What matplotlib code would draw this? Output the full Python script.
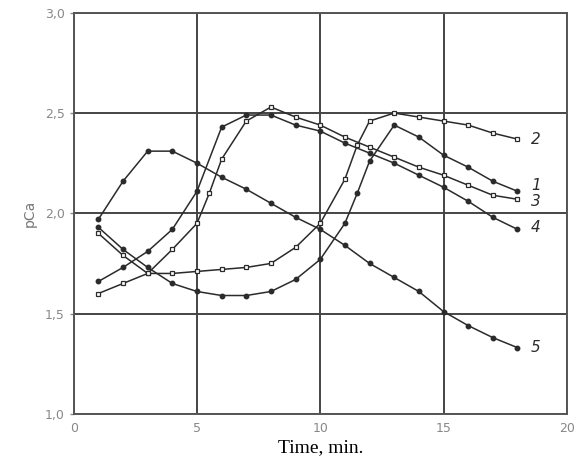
import matplotlib
matplotlib.use("Agg")
from matplotlib import pyplot as plt
from matplotlib.ticker import FuncFormatter

# time points (min) and pCa values
t1 = [1, 2, 3, 4, 5, 6, 7, 8, 9, 10, 11, 11.5, 12, 13, 14, 15, 16, 17, 18]
pca1 = [1.93, 1.82, 1.73, 1.65, 1.61, 1.59, 1.59, 1.61, 1.67, 1.77, 1.95, 2.10, 2.26, 2.44,
        2.38, 2.29, 2.23, 2.16, 2.11]

t2 = [1, 2, 3, 4, 5, 6, 7, 8, 9, 10, 11, 11.5, 12, 13, 14, 15, 16, 17, 18]
pca2 = [1.90, 1.79, 1.70, 1.70, 1.71, 1.72, 1.73, 1.75, 1.83, 1.95, 2.17, 2.34, 2.46, 2.50,
        2.48, 2.46, 2.44, 2.40, 2.37]

t3 = [1, 2, 3, 4, 5, 5.5, 6, 7, 8, 9, 10, 11, 12, 13, 14, 15, 16, 17, 18]
pca3 = [1.60, 1.65, 1.70, 1.82, 1.95, 2.10, 2.27, 2.46, 2.53, 2.48, 2.44, 2.38, 2.33, 2.28,
        2.23, 2.19, 2.14, 2.09, 2.07]

t4 = [1, 2, 3, 4, 5, 6, 7, 8, 9, 10, 11, 12, 13, 14, 15, 16, 17, 18]
pca4 = [1.66, 1.73, 1.81, 1.92, 2.11, 2.43, 2.49, 2.49, 2.44, 2.41, 2.35, 2.30, 2.25, 2.19,
        2.13, 2.06, 1.98, 1.92]

t5 = [1, 2, 3, 4, 5, 6, 7, 8, 9, 10, 11, 12, 13, 14, 15, 16, 17, 18]
pca5 = [1.97, 2.16, 2.31, 2.31, 2.25, 2.18, 2.12, 2.05, 1.98, 1.92, 1.84, 1.75, 1.68, 1.61,
        1.51, 1.44, 1.38, 1.33]

curve_labels = ['1', '2', '3', '4', '5']

ink = '#2b2b2b'
fig = plt.figure(figsize=(5.76, 4.74), dpi=100)
ax = fig.add_axes([0.128, 0.127, 0.856, 0.846])

filled = dict(marker='o', markersize=3.2, markerfacecolor=ink, markeredgecolor=ink)
hollow = dict(marker='s', markersize=3.5, markerfacecolor='white', markeredgecolor=ink,
              markeredgewidth=0.9)

ax.plot(t1, pca1, color=ink, lw=1.1, **filled)
ax.plot(t2, pca2, color=ink, lw=1.1, **hollow)
ax.plot(t3, pca3, color=ink, lw=1.1, **hollow)
ax.plot(t4, pca4, color=ink, lw=1.1, **filled)
ax.plot(t5, pca5, color=ink, lw=1.1, **filled)

# curve numbers at the right-hand ends
ends = [(t1[-1], pca1[-1] + 0.03), (t2[-1], pca2[-1]), (t3[-1], pca3[-1] - 0.01),
        (t4[-1], pca4[-1] + 0.01), (t5[-1], pca5[-1])]
for lab, (x, y) in zip(curve_labels, ends):
    ax.text(x + 0.55, y, lab, fontsize=11, style='italic', color=ink, va='center')

ax.set_xlim(0, 20)
ax.set_ylim(1.0, 3.0)
ax.set_xticks([0, 5, 10, 15, 20])
ax.set_yticks([1.0, 1.5, 2.0, 2.5, 3.0])
ax.yaxis.set_major_formatter(FuncFormatter(lambda v, p: f'{v:.1f}'.replace('.', ',')))
ax.grid(True, color='#444444', lw=1.4)
ax.set_axisbelow(True)
for s in ax.spines.values():
    s.set_color('#555555')
    s.set_linewidth(1.4)
ax.tick_params(axis='x', length=0, pad=6, colors='#888888', labelsize=9)
ax.tick_params(axis='y', length=3, width=1, direction='out', colors='#888888', labelsize=9)

ax.set_ylabel('pCa', color='#777777', fontsize=10, labelpad=6)
ax.set_xlabel('Time, min.', fontsize=14, family='Liberation Serif', color='black', labelpad=3)

fig.savefig('out.png', dpi=100)
